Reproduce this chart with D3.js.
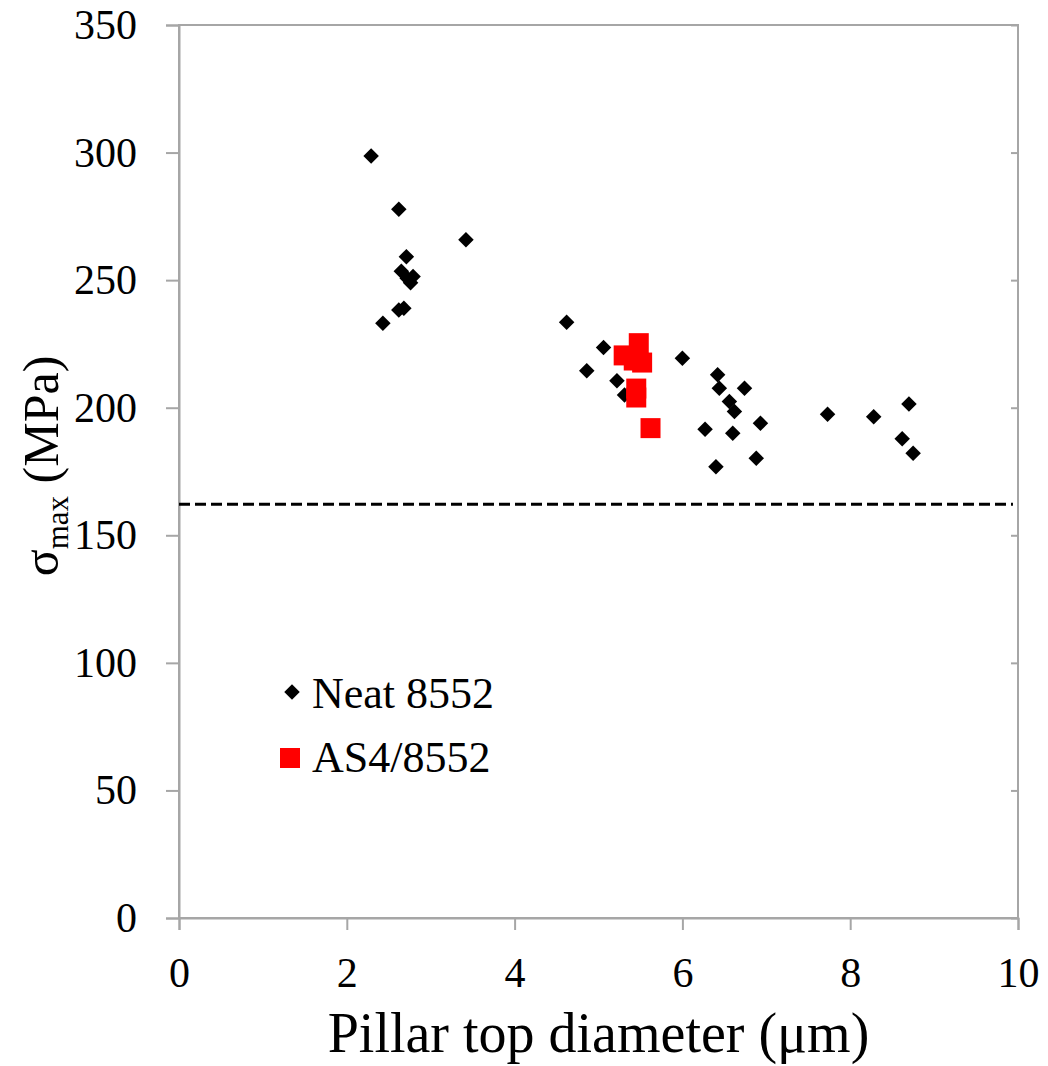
<!DOCTYPE html>
<html>
<head>
<meta charset="utf-8">
<script src="https://cdn.jsdelivr.net/npm/d3@7"></script>
<style>
  body { margin: 0; background: #fff; }
  svg { display: block; font-family: "Liberation Serif", serif; }
</style>
</head>
<body>
<svg id="svg" width="1048" height="1066"></svg>
<script>
// data
var neatX = [2.29, 2.62, 3.42, 2.71, 2.65, 2.72, 2.79, 2.76, 2.62, 2.68, 2.43,
             4.62, 5.06, 4.86, 5.22, 5.31, 6.00, 6.42, 6.44, 6.74, 6.56, 6.62,
             6.27, 6.60, 6.93, 6.88, 6.40, 7.73, 8.28, 8.70, 8.62, 8.75];
var neatY = [298.7, 277.8, 265.8, 259.2, 253.5, 250.7, 251.4, 249.0, 238.3, 239.0, 233.1,
             233.5, 223.6, 214.5, 210.6, 205.0, 219.4, 212.9, 207.6, 207.6, 202.4, 198.5,
             191.6, 190.0, 193.9, 180.2, 176.9, 197.4, 196.5, 201.5, 187.8, 182.2];
var as4X = [5.30, 5.48, 5.42, 5.52, 5.45, 5.45, 5.62];
var as4Y = [220.5, 225.3, 218.5, 217.7, 207.5, 204.0, 192.0];
var refLine = 162.2;

var xTicks = [0, 2, 4, 6, 8, 10];
var yTicks = [0, 50, 100, 150, 200, 250, 300, 350];
var legendLabels = ['Neat 8552', 'AS4/8552'];

var margin = { top: 25, right: 30, bottom: 148, left: 179 };

document.addEventListener('DOMContentLoaded', function() {
    var svg = d3.select('#svg');
    var width = +svg.attr('width');
    var height = +svg.attr('height');
    var innerW = 1018 - margin.left;
    var innerH = height - margin.top - margin.bottom;

    var x = d3.scaleLinear().domain([0, 10]).range([0, innerW]);
    var y = d3.scaleLinear().domain([0, 350]).range([innerH, 0]);

    var g = svg.append('g').attr('transform', 'translate(' + margin.left + ',' + margin.top + ')');
    var axisColor = '#a6a6a6';

    // frame
    g.append('rect')
        .attr('width', innerW).attr('height', innerH)
        .attr('fill', 'none').attr('stroke', axisColor).attr('stroke-width', 2);

    // right side inner ticks
    g.append('g')
        .attr('transform', 'translate(' + innerW + ',0)')
        .call(d3.axisLeft(y).tickValues(yTicks).tickSize(7).tickFormat(''))
        .call(function(a) {
            a.select('.domain').remove();
            a.selectAll('line').attr('stroke', axisColor).attr('stroke-width', 2);
        });

    var xAxis = g.append('g')
        .attr('transform', 'translate(0,' + innerH + ')')
        .call(d3.axisBottom(x).tickValues(xTicks).tickSize(12).tickPadding(27).tickFormat(d3.format('d')));
    var yAxis = g.append('g')
        .call(d3.axisLeft(y).tickValues(yTicks).tickSize(13).tickPadding(29).tickFormat(d3.format('d')));

    [xAxis, yAxis].forEach(function(a) {
        a.select('.domain').attr('stroke', axisColor).attr('stroke-width', 2);
        a.selectAll('line').attr('stroke', axisColor).attr('stroke-width', 2);
        a.selectAll('text')
            .attr('fill', '#000')
            .style('font-family', '"Liberation Serif", serif')
            .style('font-size', '42px');
    });

    // dashed reference line
    g.append('line')
        .attr('x1', x(0)).attr('x2', x(9.94))
        .attr('y1', y(refLine)).attr('y2', y(refLine))
        .attr('stroke', '#000').attr('stroke-width', 3)
        .attr('stroke-dasharray', '11,5');

    var diamond = d3.symbol().type(d3.symbolSquare).size(120);
    var square = d3.symbol().type(d3.symbolSquare).size(400);

    g.selectAll('.neat')
        .data(neatX)
        .enter()
        .append('path')
        .attr('class', 'neat')
        .attr('d', diamond)
        .attr('transform', function(d, i) {
            return 'translate(' + x(d) + ',' + y(neatY[i]) + ') rotate(45)';
        })
        .attr('fill', '#000');

    g.selectAll('.as4')
        .data(as4X)
        .enter()
        .append('path')
        .attr('class', 'as4')
        .attr('d', square)
        .attr('transform', function(d, i) {
            return 'translate(' + x(d) + ',' + y(as4Y[i]) + ')';
        })
        .attr('fill', '#ff0000');

    // legend
    var leg = svg.append('g');
    leg.append('path')
        .attr('d', diamond)
        .attr('transform', 'translate(292,692) rotate(45)')
        .attr('fill', '#000');
    leg.append('path')
        .attr('d', square)
        .attr('transform', 'translate(290,758)')
        .attr('fill', '#ff0000');
    leg.selectAll('text')
        .data(legendLabels)
        .enter()
        .append('text')
        .attr('x', 312)
        .attr('y', function(d, i) { return 708 + i * 64; })
        .style('font-size', '44px')
        .text(function(d) { return d; });

    // axis titles
    svg.append('text')
        .attr('x', margin.left + innerW / 2)
        .attr('y', 1052)
        .attr('text-anchor', 'middle')
        .style('font-size', '56px')
        .text('Pillar top diameter (\u03bcm)');

    var yt = svg.append('text')
        .attr('transform', 'translate(58,466) rotate(-90)')
        .attr('text-anchor', 'middle')
        .style('font-size', '50px');
    yt.append('tspan').text('\u03c3');
    yt.append('tspan').attr('dy', 10).style('font-size', '31px').text('max');
    yt.append('tspan').attr('dy', -10).text(' (MPa)');
});
</script>
</body>
</html>
